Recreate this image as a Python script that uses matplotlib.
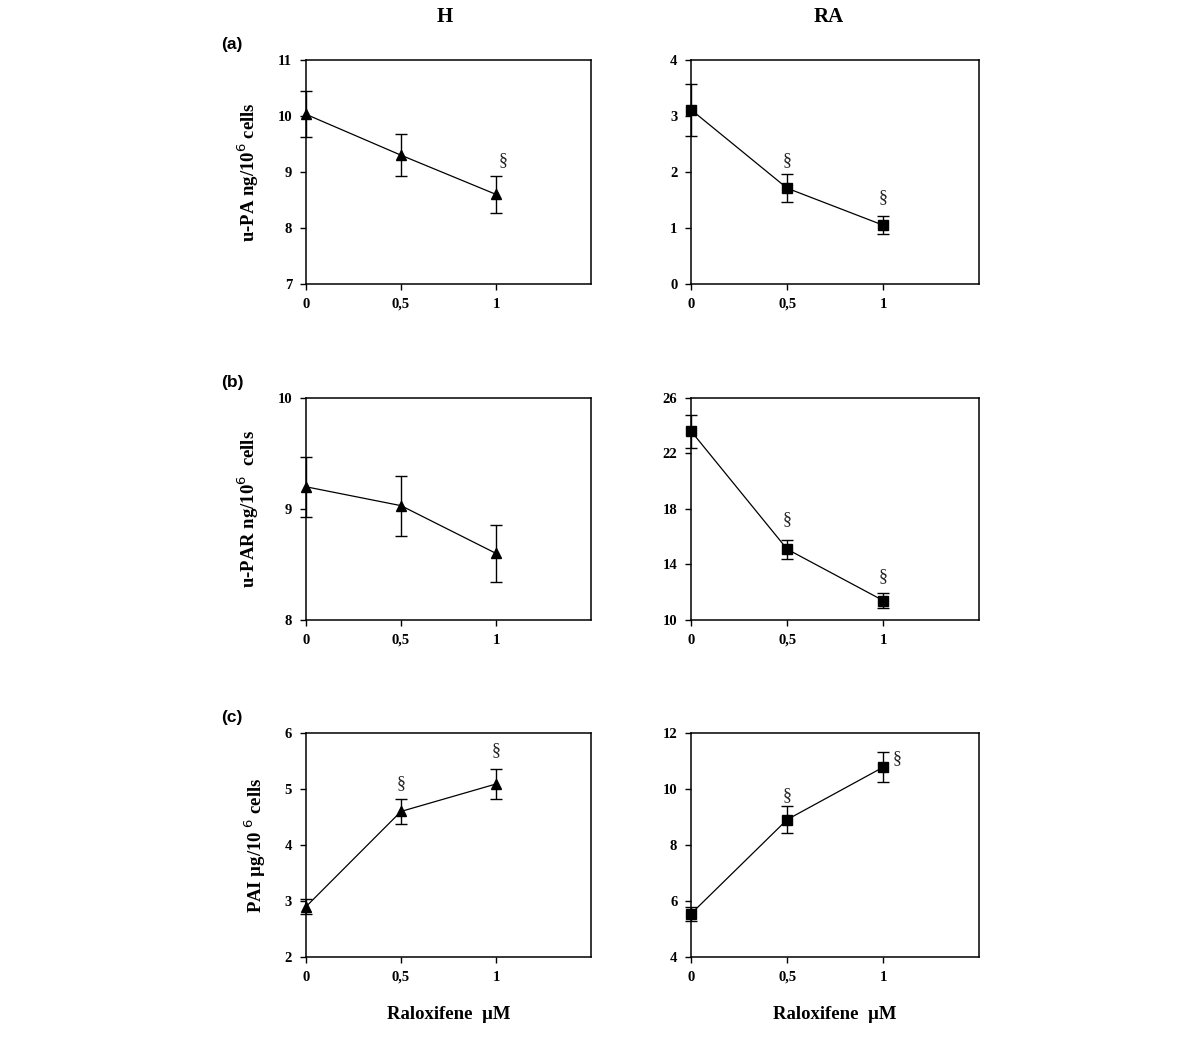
import numpy as np
import matplotlib
matplotlib.use("Agg")
from matplotlib import pyplot as plt

dose = [0, 0.5, 1]
dose_labels = ["0", "0,5", "1"]

# (a) u-PA
upa_h = [10.03, 9.30, 8.60]
upa_h_err = [0.41, 0.38, 0.33]
upa_ra = [3.11, 1.71, 1.05]
upa_ra_err = [0.47, 0.25, 0.16]

# (b) u-PAR
upar_h = [9.20, 9.03, 8.60]
upar_h_err = [0.27, 0.27, 0.26]
upar_ra = [23.6, 15.1, 11.4]
upar_ra_err = [1.2, 0.7, 0.55]

# (c) PAI
pai_h = [2.90, 4.60, 5.09]
pai_h_err = [0.13, 0.23, 0.26]
pai_ra = [5.55, 8.91, 10.78]
pai_ra_err = [0.25, 0.47, 0.53]

serif = "Liberation Serif"

fig = plt.figure(figsize=(12, 10.38), dpi=100)

rows = [
    dict(bottom=0.7264, height=0.2158, label="(a)",
         ylabel="u-PA ng/10$^{6}$ cells",
         h=(upa_h, upa_h_err, (7, 11), [7, 8, 9, 10, 11], [(1.04, 9.2)]),
         ra=(upa_ra, upa_ra_err, (0, 4), [0, 1, 2, 3, 4], [(0.5, 2.2), (1.0, 1.55)])),
    dict(bottom=0.4027, height=0.2139, label="(b)",
         ylabel="u-PAR ng/10$^{6}$  cells",
         h=(upar_h, upar_h_err, (8, 10), [8, 9, 10], []),
         ra=(upar_ra, upar_ra_err, (10, 26), [10, 14, 18, 22, 26], [(0.5, 17.2), (1.0, 13.1)])),
    dict(bottom=0.078, height=0.2158, label="(c)",
         ylabel="PAI µg/10 $^{6}$ cells",
         h=(pai_h, pai_h_err, (2, 6), [2, 3, 4, 5, 6], [(0.5, 5.1), (1.0, 5.68)]),
         ra=(pai_ra, pai_ra_err, (4, 12), [4, 6, 8, 10, 12], [(0.5, 9.75), (1.07, 11.1)])),
]

for i, row in enumerate(rows):
    for side, x0, w, marker in [("h", 0.255, 0.2375, "^"), ("ra", 0.576, 0.24, "s")]:
        vals, errs, ylim, yticks, marks = row[side]
        ax = fig.add_axes([x0, row["bottom"], w, row["height"]])
        ax.errorbar(dose, vals, yerr=errs, color="black", lw=0.9, marker=marker,
                    ms=6.5, capsize=4, elinewidth=1.0, capthick=1.0, clip_on=False, zorder=3)
        ax.set_xlim(0, 1.5)
        ax.set_ylim(*ylim)
        ax.set_xticks(dose)
        ax.set_xticklabels(dose_labels)
        ax.set_yticks(yticks)
        ax.tick_params(direction="out", length=4, width=1, pad=6)
        for lab in ax.get_xticklabels() + ax.get_yticklabels():
            lab.set_fontfamily(serif)
            lab.set_fontweight("bold")
            lab.set_fontsize(10.5)
        for sp in ax.spines.values():
            sp.set_linewidth(1.1)
        for mx, my in marks:
            ax.text(mx, my, "§", ha="center", va="center", fontsize=13,
                    family=serif, color="#222222")
        if side == "h":
            ax.set_ylabel(row["ylabel"], family=serif, fontweight="bold",
                          fontsize=13.5, labelpad=12)
            fig.text(0.184, row["bottom"] + row["height"] + 0.011, row["label"],
                     family="Liberation Sans", fontweight="bold", fontsize=12.5)
        if i == 2:
            ax.set_xlabel("Raloxifene  µM", family=serif, fontweight="bold",
                          fontsize=13.5, labelpad=16)

fig.text(0.371, 0.984, "H", ha="center", va="center", family=serif,
         fontweight="bold", fontsize=15)
fig.text(0.691, 0.984, "RA", ha="center", va="center", family=serif,
         fontweight="bold", fontsize=15)

fig.savefig("out.png", dpi=100)
